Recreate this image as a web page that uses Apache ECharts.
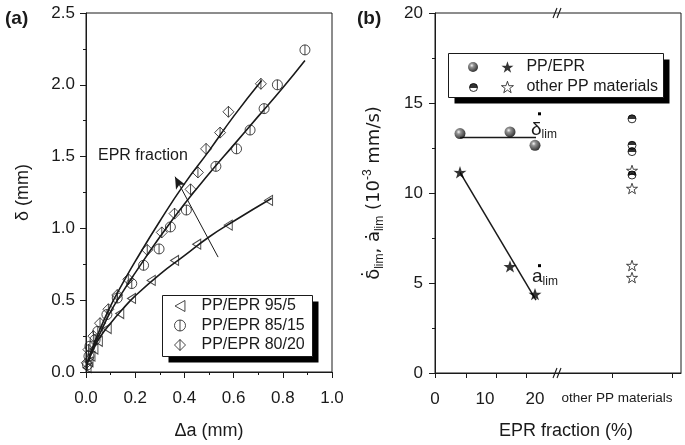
<!DOCTYPE html>
<html><head><meta charset="utf-8">
<script src="https://cdn.jsdelivr.net/npm/echarts@6/dist/echarts.min.js"></script>
<style>html,body{margin:0;padding:0;background:#fff}#c{width:685px;height:445px}</style>
</head><body><div id="c"></div>
<script>
// ---------- Panel (a): delta vs delta-a ----------
const pp95_5 = [[0.004,0.03],[0.012,0.07],[0.02,0.11],[0.032,0.16],[0.05,0.214],[0.086,0.303],[0.137,0.407],[0.185,0.512],[0.265,0.638],[0.36,0.777],[0.45,0.89],[0.578,1.023],[0.742,1.195]];
const pp85_15 = [[0.006,0.05],[0.012,0.11],[0.016,0.18],[0.037,0.225],[0.048,0.283],[0.085,0.40],[0.127,0.515],[0.186,0.616],[0.234,0.743],[0.297,0.857],[0.343,1.01],[0.408,1.128],[0.528,1.432],[0.612,1.554],[0.667,1.685],[0.724,1.834],[0.778,2.0],[0.89,2.243]];
const pp80_20 = [[0.003,0.064],[0.01,0.156],[0.03,0.25],[0.057,0.34],[0.091,0.437],[0.127,0.536],[0.172,0.646],[0.249,0.85],[0.308,0.972],[0.36,1.103],[0.425,1.272],[0.455,1.39],[0.488,1.554],[0.545,1.667],[0.579,1.812],[0.711,2.007]];
const fit95_5 = [[0.01,0.08],[0.03,0.16],[0.06,0.25],[0.1,0.34],[0.15,0.44],[0.2,0.53],[0.3,0.68],[0.4,0.81],[0.5,0.94],[0.6,1.05],[0.755,1.21]];
const fit85_15 = [[0.01,0.07],[0.03,0.17],[0.06,0.28],[0.1,0.42],[0.15,0.56],[0.2,0.69],[0.3,0.94],[0.4,1.17],[0.5,1.38],[0.6,1.58],[0.7,1.78],[0.8,1.98],[0.89,2.17]];
const fit80_20 = [[0.005,0.05],[0.02,0.14],[0.05,0.27],[0.1,0.46],[0.15,0.62],[0.2,0.77],[0.3,1.05],[0.4,1.31],[0.5,1.54],[0.6,1.78],[0.714,2.03]];
const eprArrow = [[0.537,0.80],[0.362,1.36]];
const seriesNamesA = ['PP/EPR 95/5','PP/EPR 85/15','PP/EPR 80/20'];

// ---------- Panel (b): rates vs EPR fraction ----------
const eprFrac = [5, 15, 20];
const dLimPP = [13.3, 13.39, 12.65];
const aLimPP = [11.15, 5.92, 4.38];
const dLimOther = [14.12, 12.65, 12.3, 11.0];
const aLimOther = [11.25, 10.25, 5.97, 5.3];
const dLimFit = [[5,13.08],[20.2,13.08]];
const aLimFit = [[5,11.15],[20.2,4.05]];
const OTHER_X = 39.4;          // x-slot of "other PP materials"
const xLabelValuesB = [0, 10, 20, 36.4];
const xTickValuesB = [0, 6.2, 12.2, 18.2, 35.4, 47.4];
const BREAK_X = 24.4;

const FONT = 'Liberation Sans, Arial, sans-serif';
const INK = '#1a1a1a';
const HOLLOW = 'rgba(0,0,0,0)';
const TRI = 'path://M0,5 L9,0 L9,10 Z';
const CIRC_BAR = 'path://M5,0 A5,5 0 1 1 4.999,0 Z M5,0 L5,10';
const DIA_BAR = 'path://M5,0 L10,5 L5,10 L0,5 Z M5,0 L5,10';
const STAR = 'path://M50,0 L61.8,35.1 L97.6,34.5 L68.8,56.2 L79.4,90.5 L50,70 L20.6,90.5 L31.2,56.2 L2.4,34.5 L38.2,35.1 Z';
const sphere = {type:'radial', x:0.38, y:0.35, r:0.65, colorStops:[{offset:0,color:'#f4f4f4'},{offset:0.3,color:'#777'},{offset:1,color:'#000'}]};
const halfFill = {type:'linear', x:0, y:0, x2:0, y2:1, colorStops:[{offset:0,color:'#000'},{offset:0.5,color:'#000'},{offset:0.5,color:'#fff'},{offset:1,color:'#fff'}]};

function axisCommon(){
  return {
    axisLine:{show:true, onZero:false, lineStyle:{color:INK, width:1}},
    axisTick:{show:true, length:6, lineStyle:{color:INK}},
    minorTick:{show:true, splitNumber:2, length:3, lineStyle:{color:INK}},
    splitLine:{show:false},
    axisLabel:{color:INK, fontSize:17, fontFamily:FONT, margin:10},
    nameTextStyle:{color:INK, fontSize:18, fontFamily:FONT}
  };
}
const legText = {fontSize:16, lineHeight:16, fontFamily:FONT, color:INK};

const chart = echarts.init(document.getElementById('c'), null, {renderer:'canvas'});
const option = {
  animation:false,
  backgroundColor:'#fff',
  textStyle:{fontFamily:FONT},
  grid:[
    {left:86, width:246, top:13, height:363, show:true, borderColor:INK, borderWidth:1, backgroundColor:'transparent'},
    {left:435, width:246, top:13, height:364, show:true, borderColor:INK, borderWidth:1, backgroundColor:'transparent'}
  ],
  xAxis:[
    Object.assign(axisCommon(), {gridIndex:0, type:'value', min:0, max:1, interval:0.2,
      name:'Δa (mm)', nameLocation:'middle', nameGap:50,
      axisLabel:Object.assign(axisCommon().axisLabel,{formatter:v=>v.toFixed(1), margin:18})}),
    Object.assign(axisCommon(), {gridIndex:1, type:'value', min:0, max:49.2,
      name:'EPR fraction (%)', nameLocation:'middle', nameGap:49,
      nameTextStyle:{color:INK, fontSize:18, fontFamily:FONT, padding:[0,0,0,16]},
      minorTick:{show:false},
      axisTick:{show:true, length:5, lineStyle:{color:INK}, customValues:xTickValuesB},
      axisLabel:{color:INK, fontSize:17, fontFamily:FONT, margin:18, customValues:xLabelValuesB,
        formatter:v=> v > 30 ? '{o|other PP materials}' : String(v),
        rich:{o:{fontSize:13.5, fontFamily:FONT, color:INK}}}})
  ],
  yAxis:[
    Object.assign(axisCommon(), {gridIndex:0, type:'value', min:0, max:2.5, interval:0.5,
      name:'δ (mm)', nameLocation:'middle', nameGap:54, nameRotate:90,
      axisLabel:Object.assign(axisCommon().axisLabel,{formatter:v=>v.toFixed(1), margin:11})}),
    Object.assign(axisCommon(), {gridIndex:1, type:'value', min:0, max:20, interval:5,
      name:'{d|\u03B4\u0307}{s|lim}{d|, a\u0307}{s|lim}{d| (10}{p|-3}{d| mm/s)}',
      nameLocation:'middle', nameGap:49, nameRotate:90,
      axisLabel:Object.assign(axisCommon().axisLabel,{margin:12}),
      nameTextStyle:{color:INK, fontFamily:FONT, rich:{
        d:{fontSize:18, lineHeight:24, fontFamily:'DejaVu Sans, Liberation Sans, sans-serif', color:INK},
        s:{fontSize:12, lineHeight:14, verticalAlign:'bottom', fontFamily:FONT, color:INK},
        p:{fontSize:12, lineHeight:14, verticalAlign:'top', fontFamily:FONT, color:INK}}}})
  ],
  legend:[
    {left:174, top:298, orient:'vertical', data:seriesNamesA, selectedMode:false,
      itemWidth:11, itemHeight:11, itemGap:3.5, padding:0,
      itemStyle:{borderWidth:1},
      textStyle:Object.assign({padding:[0,0,0,11]}, legText)},
    {left:501, top:59, orient:'vertical', data:['PP/EPR','other PP materials'], selectedMode:false,
      itemWidth:12, itemHeight:12, itemGap:4, padding:0,
      itemStyle:{borderWidth:0.9},
      textStyle:Object.assign({padding:[0,0,0,8]}, legText)},
    {left:468, top:62, data:['dotPP'], selectedMode:false, itemWidth:10, itemHeight:10, padding:0, formatter:()=>''},
    {left:469, top:83, data:['dotOther'], selectedMode:false, itemWidth:8, itemHeight:8, padding:0, formatter:()=>'',
      itemStyle:{borderWidth:1}}
  ],
  series:[
    {name:'PP/EPR 95/5', type:'scatter', xAxisIndex:0, yAxisIndex:0, data:pp95_5,
      symbol:TRI, symbolSize:[9,10], symbolKeepAspect:true,
      itemStyle:{color:HOLLOW, borderColor:INK, borderWidth:1}, z:3},
    {name:'PP/EPR 85/15', type:'scatter', xAxisIndex:0, yAxisIndex:0, data:pp85_15,
      symbol:CIRC_BAR, symbolSize:10, symbolKeepAspect:true,
      itemStyle:{color:HOLLOW, borderColor:INK, borderWidth:1}, z:3},
    {name:'PP/EPR 80/20', type:'scatter', xAxisIndex:0, yAxisIndex:0, data:pp80_20,
      symbol:DIA_BAR, symbolSize:11, symbolKeepAspect:true,
      itemStyle:{color:HOLLOW, borderColor:INK, borderWidth:1}, z:3},
    {name:'fit95', type:'line', xAxisIndex:0, yAxisIndex:0, data:fit95_5, smooth:true, showSymbol:false,
      lineStyle:{color:INK, width:1.6}},
    {name:'fit85', type:'line', xAxisIndex:0, yAxisIndex:0, data:fit85_15, smooth:true, showSymbol:false,
      lineStyle:{color:INK, width:1.6}},
    {name:'fit80', type:'line', xAxisIndex:0, yAxisIndex:0, data:fit80_20, smooth:true, showSymbol:false,
      lineStyle:{color:INK, width:1.6},
      markLine:{silent:true, symbolSize:[8,12], lineStyle:{color:INK, width:1, type:'solid'}, label:{show:false},
        data:[[{coord:eprArrow[0], symbol:'none'},{coord:eprArrow[1], symbol:'arrow'}]]}},
    // panel b
    {name:'dLimFit', type:'line', xAxisIndex:1, yAxisIndex:1, data:dLimFit, showSymbol:false,
      lineStyle:{color:INK, width:1.5}},
    {name:'aLimFit', type:'line', xAxisIndex:1, yAxisIndex:1, data:aLimFit, showSymbol:false,
      lineStyle:{color:INK, width:1.5}},
    {name:'dotPP', type:'scatter', xAxisIndex:1, yAxisIndex:1,
      data:eprFrac.map((x,i)=>[x,dLimPP[i]]), symbol:'circle', symbolSize:11,
      itemStyle:{color:sphere}, z:4},
    {name:'PP/EPR', type:'scatter', xAxisIndex:1, yAxisIndex:1,
      data:eprFrac.map((x,i)=>[x,aLimPP[i]]), symbol:STAR, symbolSize:13, symbolKeepAspect:true,
      itemStyle:{color:'#000'}, z:4},
    {name:'dotOther', type:'scatter', xAxisIndex:1, yAxisIndex:1,
      data:dLimOther.map(v=>[OTHER_X,v]), symbol:'circle', symbolSize:8,
      itemStyle:{color:halfFill, borderColor:'#000', borderWidth:1}, z:4},
    {name:'other PP materials', type:'scatter', xAxisIndex:1, yAxisIndex:1,
      data:aLimOther.map(v=>[OTHER_X,v]), symbol:STAR, symbolSize:11, symbolKeepAspect:true,
      itemStyle:{color:HOLLOW, borderColor:'#000', borderWidth:0.9}, z:4}
  ]
};
chart.setOption(option);

// annotations, legend boxes & axis breaks
const pb = chart.convertToPixel({xAxisIndex:1, yAxisIndex:1}, [BREAK_X, 0]);
const pt = chart.convertToPixel({xAxisIndex:1, yAxisIndex:1}, [BREAK_X, 20]);
function breakMark(p){
  return {type:'group', x:p[0], y:p[1], z:5, children:[
    {type:'line', shape:{x1:-4, y1:5, x2:0, y2:-5}, style:{stroke:INK, lineWidth:1.1}},
    {type:'line', shape:{x1:0, y1:5, x2:4, y2:-5}, style:{stroke:INK, lineWidth:1.1}}
  ]};
}
function legendBox(x, y, w, h){
  return [
    {type:'rect', z:3, shape:{x:x+6, y:y+6, width:w, height:h}, style:{fill:'#000'}},
    {type:'rect', z:3, shape:{x:x, y:y, width:w, height:h}, style:{fill:'#fff', stroke:INK, lineWidth:1}}
  ];
}
const pd = chart.convertToPixel({xAxisIndex:1, yAxisIndex:1}, [20, dLimPP[2]]);
const pa = chart.convertToPixel({xAxisIndex:1, yAxisIndex:1}, [20, aLimPP[2]]);
chart.setOption({graphic:[
  ...legendBox(162.5, 295.5, 150, 61),
  ...legendBox(448.5, 53.5, 215, 44),
  {type:'text', left:5, top:9, style:{text:'(a)', font:'bold 19px '+FONT, fill:INK}},
  {type:'text', left:357, top:9, style:{text:'(b)', font:'bold 19px '+FONT, fill:INK}},
  {type:'text', left:98, top:148, style:{text:'EPR fraction', font:'16px '+FONT, fill:INK}},
  {type:'text', x:pd[0]-4, y:pd[1]-27, style:{text:'{d|δ}{s|lim}', rich:{
      d:{font:'19px '+FONT, fill:INK, lineHeight:22}, s:{font:'12px '+FONT, fill:INK, lineHeight:12, verticalAlign:'bottom'}}}},
  {type:'rect', x:pd[0]+3, y:pd[1]-33, shape:{width:3, height:3}, style:{fill:'#000'}},
  {type:'text', x:pa[0]-3, y:pa[1]-28, style:{text:'{d|a}{s|lim}', rich:{
      d:{font:'19px '+FONT, fill:INK, lineHeight:22}, s:{font:'12px '+FONT, fill:INK, lineHeight:12, verticalAlign:'bottom'}}}},
  {type:'rect', x:pa[0]+3, y:pa[1]-30, shape:{width:3, height:3}, style:{fill:'#000'}},
  breakMark(pb), breakMark(pt)
]});
</script>
</body></html>
